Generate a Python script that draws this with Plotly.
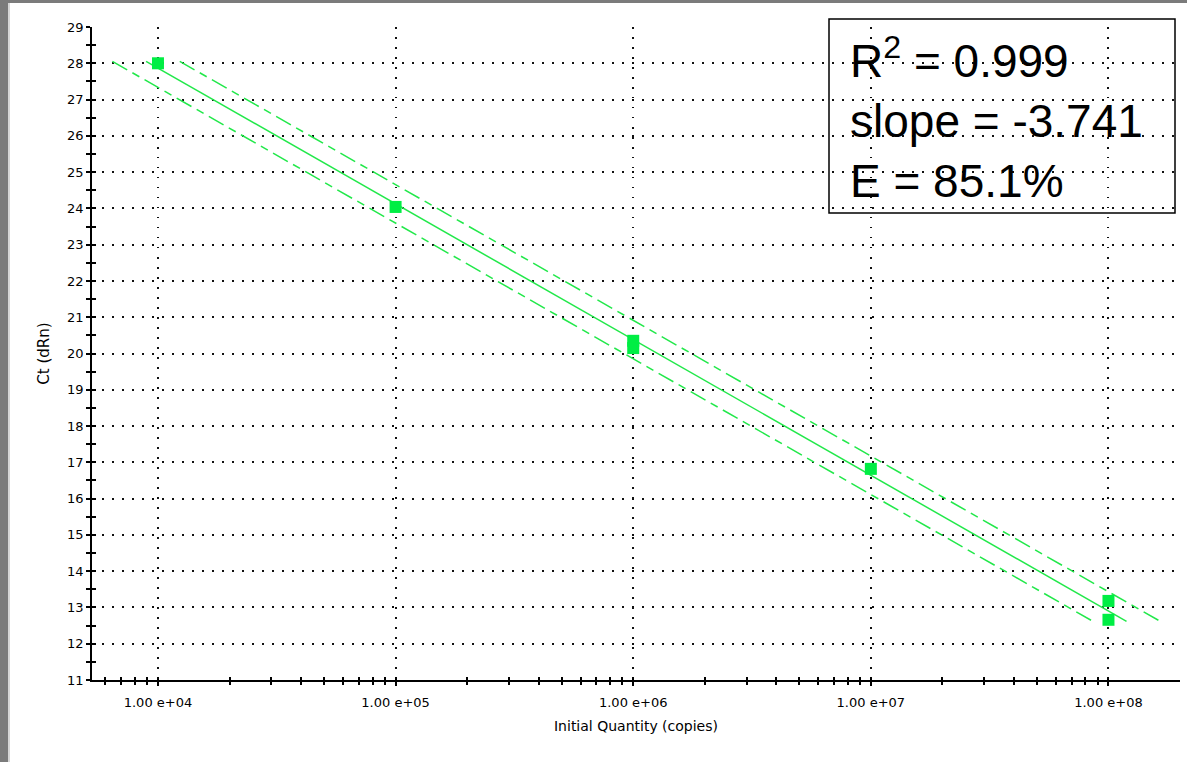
import math
import plotly.graph_objects as go

# ---------------- data ----------------
quantity = [1e4, 1e5, 1e6, 1e6, 1e7, 1e8, 1e8]
ct_values = [28.0, 24.04, 20.35, 20.15, 16.82, 13.18, 12.66]

fit_slope = -3.741
fit_intercept = 42.83
fit_log_range = [3.95, 8.076]      # x extent of the regression line (log10 copies)
band_shift_decades = 0.1417        # horizontal offset of the dashed confidence lines

x_tick_values = [1e4, 1e5, 1e6, 1e7, 1e8]
x_tick_labels = ["1.00 e+04", "1.00 e+05", "1.00 e+06", "1.00 e+07", "1.00 e+08"]
y_tick_values = list(range(11, 30))

stats_lines = ["R<sup>2</sup> = 0.999", "slope = -3.741", "E = 85.1%"]

# ---------------- layout constants ----------------
W, H = 1187, 762
ML, MR, MT, MB = 92, 7, 27, 82
PW, PH = W - ML - MR, H - MT - MB
X_RANGE = [3.7224, 8.301]
Y_RANGE = [11, 29]

LINE_GREEN = "#22e84a"
MARK_GREEN = "#00ee44"
TICK_FONT = dict(family="DejaVu Sans", size=13, color="black")


def px_x(p):
    return (p - ML) / PW


def px_y(p):
    return 1 - (p - MT) / PH


fig = go.Figure()

# regression line and confidence lines
fit_x = [10 ** v for v in fit_log_range]
fit_y = [fit_intercept + fit_slope * v for v in fit_log_range]
shift = 10 ** band_shift_decades
dash_pattern = "17px,6px,8px,6px"

fig.add_trace(go.Scatter(x=[v / shift for v in fit_x], y=fit_y, mode="lines",
                         line=dict(color=LINE_GREEN, width=1.5, dash=dash_pattern),
                         hoverinfo="skip", showlegend=False))
fig.add_trace(go.Scatter(x=[v * shift for v in fit_x], y=fit_y, mode="lines",
                         line=dict(color=LINE_GREEN, width=1.5, dash=dash_pattern),
                         hoverinfo="skip", showlegend=False))
fig.add_trace(go.Scatter(x=fit_x, y=fit_y, mode="lines",
                         line=dict(color=LINE_GREEN, width=1.5),
                         hoverinfo="skip", showlegend=False))

# standards
fig.add_trace(go.Scatter(x=quantity, y=ct_values, mode="markers",
                         marker=dict(symbol="square", size=12, color=MARK_GREEN,
                                     line=dict(width=0)),
                         showlegend=False))

# invisible trace to create overlay axes (ticks drawn inside -> crossing ticks)
fig.add_trace(go.Scatter(x=[quantity[0]], y=[ct_values[0]], xaxis="x2", yaxis="y2",
                         mode="markers", marker=dict(opacity=0), hoverinfo="skip",
                         showlegend=False))

x_minor = [k * 10 ** d for d in range(3, 9) for k in range(2, 10)
           if X_RANGE[0] <= math.log10(k * 10 ** d) <= X_RANGE[1]]
grid_style = dict(showgrid=True, gridcolor="#111", gridwidth=1.5, griddash="1.5px,8.5px")

fig.update_layout(
    width=W, height=H,
    margin=dict(l=ML, r=MR, t=MT, b=MB, pad=0),
    paper_bgcolor="white", plot_bgcolor="white",
    xaxis=dict(type="log", range=X_RANGE, tickvals=x_tick_values, ticktext=x_tick_labels,
               ticks="outside", ticklen=4, tickwidth=1.5, tickcolor="black",
               minor=dict(tickvals=x_minor, ticks="outside", ticklen=3, tickwidth=1.5,
                          tickcolor="black", showgrid=False),
               showline=True, linecolor="black", linewidth=1.8, zeroline=False,
               tickfont=TICK_FONT, ticklabelstandoff=5,
               title=dict(text="Initial Quantity (copies)",
                          font=dict(family="DejaVu Sans", size=14, color="black"),
                          standoff=13),
               **grid_style),
    yaxis=dict(range=Y_RANGE, tickvals=y_tick_values,
               ticks="outside", ticklen=4, tickwidth=1.5, tickcolor="black",
               minor=dict(dtick=0.5, ticks="outside", ticklen=4, tickwidth=1.5,
                          tickcolor="black", showgrid=False),
               showline=True, linecolor="black", linewidth=1.8, zeroline=False,
               tickfont=TICK_FONT,
               title=dict(text="Ct (dRn)",
                          font=dict(family="DejaVu Sans", size=15, color="black"),
                          standoff=14),
               **grid_style),
    xaxis2=dict(type="log", range=X_RANGE, overlaying="x", anchor="y", side="bottom",
                tickvals=x_tick_values, ticks="inside", ticklen=3, tickwidth=1.5,
                tickcolor="black",
                minor=dict(tickvals=x_minor, ticks="inside", ticklen=3, tickwidth=1.5,
                           tickcolor="black", showgrid=False),
                showticklabels=False, showgrid=False, showline=False, zeroline=False),
    yaxis2=dict(range=Y_RANGE, overlaying="y", anchor="x", side="left",
                tickvals=y_tick_values, ticks="inside", ticklen=4, tickwidth=1.5,
                tickcolor="black",
                minor=dict(dtick=0.5, ticks="inside", ticklen=4, tickwidth=1.5,
                           tickcolor="black", showgrid=False),
                showticklabels=False, showgrid=False, showline=False, zeroline=False),
    showlegend=False,
)

# statistics box
fig.add_shape(type="rect", xref="paper", yref="paper",
              x0=px_x(829), x1=px_x(1175), y0=px_y(213), y1=px_y(19),
              line=dict(color="black", width=1.5), fillcolor="rgba(0,0,0,0)", layer="above")
fig.add_annotation(xref="paper", yref="paper", x=px_x(848), y=px_y(27),
                   xanchor="left", yanchor="top", align="left", showarrow=False,
                   text="<br>".join(stats_lines),
                   font=dict(family="Liberation Sans", size=46, color="black"))

# window frame (grey border at left and top)
fig.add_shape(type="rect", xref="paper", yref="paper",
              x0=px_x(0), x1=px_x(8), y0=px_y(H), y1=px_y(0),
              line=dict(width=0), fillcolor="#7b7b7b", layer="above")
fig.add_shape(type="rect", xref="paper", yref="paper",
              x0=px_x(8), x1=px_x(10), y0=px_y(H), y1=px_y(3),
              line=dict(width=0), fillcolor="#d6d6d6", layer="above")
fig.add_shape(type="rect", xref="paper", yref="paper",
              x0=px_x(0), x1=px_x(W), y0=px_y(3), y1=px_y(0),
              line=dict(width=0), fillcolor="#7b7b7b", layer="above")

fig.write_html("out.html")
